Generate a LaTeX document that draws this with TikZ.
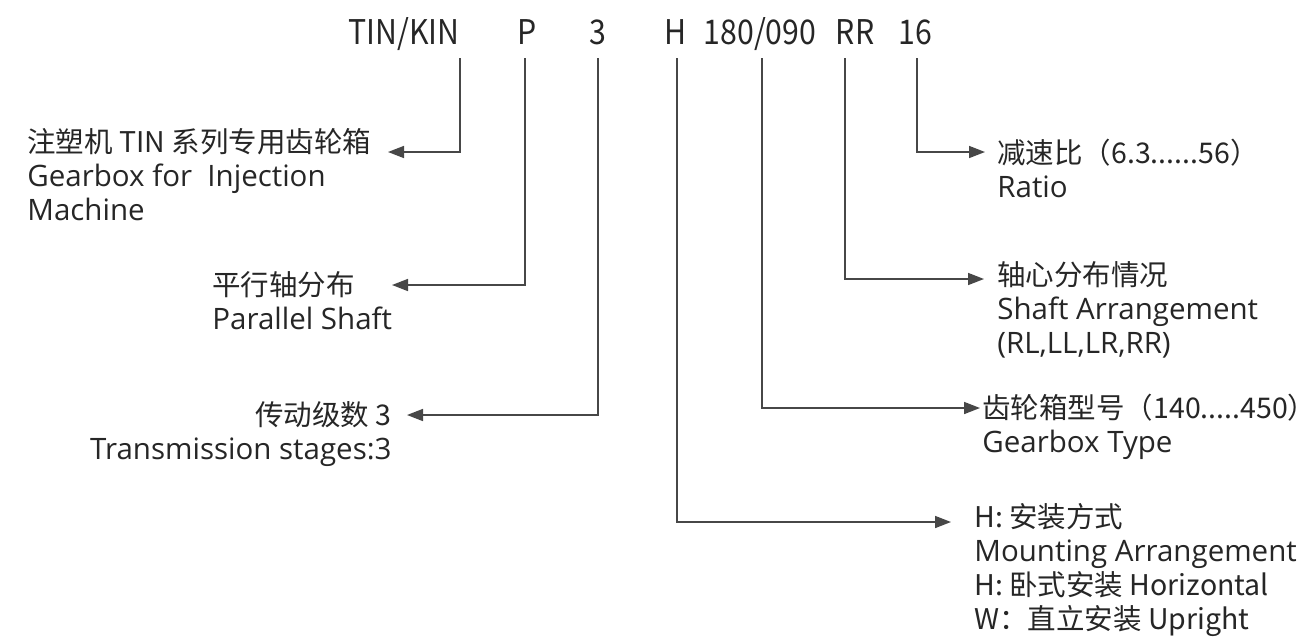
\documentclass[tikz,border=0pt]{standalone}
\usepackage{fontspec}
\setmainfont{Open Sans}
\newfontfamily\cjk{Noto Sans CJK SC}
\newfontfamily\codefont[FakeStretch=0.89]{Noto Sans CJK SC}
\usetikzlibrary{arrows.meta,positioning}

\begin{document}
\begin{tikzpicture}[
                x=0.5pt,
                y=-0.5pt,
                code/.style={
                    font=\codefont\fontsize{17}{20}\selectfont,
                    text=black!85,
                    inner sep=0pt,
                    anchor=base
                },
                cn/.style={
                    font=\cjk\fontsize{14.25}{17}\selectfont,
                    text=black!85,
                    inner sep=0pt
                },
                en/.style={
                    font=\fontsize{14.75}{17}\selectfont,
                    text=black!85,
                    inner sep=0pt
                },
                link/.style={
                    draw=black!72,
                    line width=0.8pt,
                    -{Triangle[length=8pt,width=6pt]}
                }
            ]

                \useasboundingbox (0,0) rectangle (1316,638);

                \node[code] (tin) at (404,44) {TIN/KIN};
                \node[code] (par) at (527,44) {P};
                \node[code] (stage) at (598,44) {3};
                \node[code] (mount) at (676,44) {H};
                \node[code] (size) at (760,44) {180/090};
                \node[code] (shaft) at (855,44) {RR};
                \node[code] (ratio) at (915,44) {16};

                \node[cn, anchor=west] (tinCn) at (27,142) {注塑机 TIN 系列专用齿轮箱};
                \node[en, anchor=base west] (tinEn) at ([yshift=-17pt]tinCn.base west) {Gearbox for\ \ Injection};
                \node[en, anchor=base west] (tinEnB) at ([yshift=-17pt]tinEn.base west) {Machine};

                \node[cn, anchor=west] (parCn) at (212,285) {平行轴分布};
                \node[en, anchor=base west] (parEn) at ([yshift=-17pt]parCn.base west) {Parallel Shaft};

                \node[cn, anchor=east] (stageCn) at (392,415) {传动级数 3};
                \node[en, anchor=base east] (stageEn) at ([yshift=-17pt]stageCn.base east) {Transmission stages:3};

                \node[cn, anchor=west] (ratioCn) at (997,153) {减速比（6.3......56）};
                \node[en, anchor=base west] (ratioEn) at ([yshift=-17pt]ratioCn.base west) {Ratio};

                \node[cn, anchor=west] (shaftCn) at (997,275) {轴心分布情况};
                \node[en, anchor=base west] (shaftEn) at ([yshift=-17pt]shaftCn.base west) {Shaft Arrangement};
                \node[en, anchor=base west] (shaftEnB) at ([yshift=-17pt]shaftEn.base west) {(RL,LL,LR,RR)};

                \node[cn, anchor=west] (sizeCn) at (982,408) {齿轮箱型号（140.....450）};
                \node[en, anchor=base west] (sizeEn) at ([yshift=-17pt]sizeCn.base west) {Gearbox Type};

                \node[cn, anchor=west] (mountCn) at (974,517) {H: 安装方式};
                \node[en, anchor=base west] (mountEn) at ([yshift=-17pt]mountCn.base west) {Mounting Arrangement};
                \node[cn, anchor=base west] (mountH) at ([yshift=-17pt]mountEn.base west) {H: 卧式安装 Horizontal};
                \node[cn, anchor=base west] (mountW) at ([yshift=-17pt]mountH.base west) {W：直立安装 Upright};

                \coordinate (tinTip) at (388,152);
                \coordinate (parTip) at (392,285);
                \coordinate (stageTip) at (407,415);
                \coordinate (ratioTip) at (985,152);
                \coordinate (shaftTip) at (984,279);
                \coordinate (sizeTip) at (980,408);
                \coordinate (mountTip) at (951,522);

                \draw[link] ([yshift=-7pt]tin.base east) |- (tinTip);
                \draw[link] ([xshift=-1pt,yshift=-7pt]par.base) |- (parTip);
                \draw[link] ([yshift=-7pt]stage.base) |- (stageTip);
                \draw[link] ([xshift=0.5pt,yshift=-7pt]mount.base) |- (mountTip);
                \draw[link] ([xshift=1pt,yshift=-7pt]size.base) |- (sizeTip);
                \draw[link] ([xshift=-5pt,yshift=-7pt]shaft.base) |- (shaftTip);
                \draw[link] ([xshift=1pt,yshift=-7pt]ratio.base) |- (ratioTip);

            \end{tikzpicture}
\end{document}
